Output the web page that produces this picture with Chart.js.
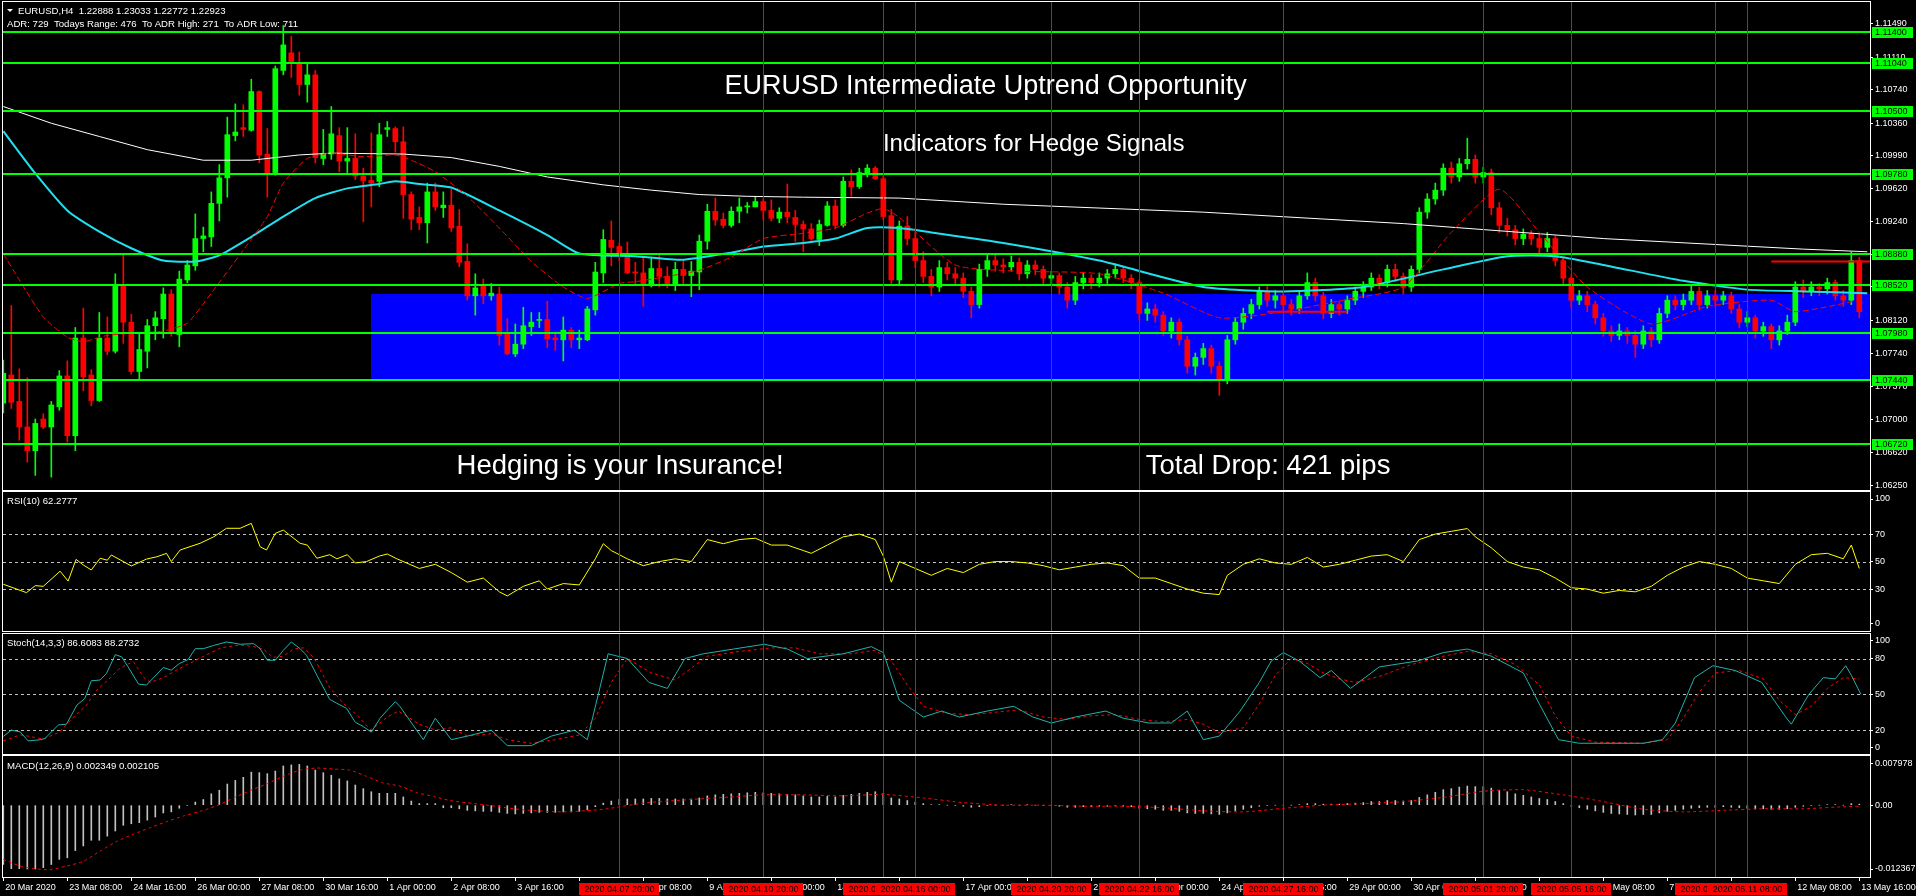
<!DOCTYPE html>
<html>
<head>
<meta charset="utf-8">
<title>EURUSD H4</title>
<script src="https://cdn.jsdelivr.net/npm/chart.js@4.4.1/dist/chart.umd.min.js"></script>
<style>
  html, body { margin: 0; padding: 0; background: #000; overflow: hidden; }
  canvas { position: absolute; left: 0; }
</style>
</head>
<body>
<canvas id="priceChart" width="1916" height="491" style="top:0px"></canvas>
<canvas id="rsiChart" width="1916" height="142" style="top:491px"></canvas>
<canvas id="stochChart" width="1916" height="122" style="top:633px"></canvas>
<canvas id="macdChart" width="1916" height="141" style="top:755px"></canvas>
<script>
// ---- candles, one row per trading day (6 x H4) ----
var opens = [
  1.0718, 1.0750, 1.0720, 1.0691, 1.0664, 1.0700,
  1.0691, 1.0714, 1.0749, 1.0681, 1.0792, 1.0750,
  1.0721, 1.0792, 1.0777, 1.0851, 1.0810, 1.0754,
  1.0777, 1.0806, 1.0814, 1.0842, 1.0796, 1.0858,
  1.0874, 1.0905, 1.0907, 1.0945, 1.0974, 1.1022,
  1.1031, 1.1028, 1.1072, 1.1001, 1.0980, 1.1096,
  1.1116, 1.1104, 1.1080, 1.1091, 1.0996, 1.1001,
  1.1022, 1.0993, 1.0996, 1.0976, 1.0971, 1.0970,
  1.1029, 1.1030, 1.1015, 1.0955, 1.0929, 1.0923,
  1.0958, 1.0940, 1.0943, 1.0919, 1.0879, 1.0840,
  1.0853, 1.0840, 1.0842, 1.0797, 1.0774, 1.0785,
  1.0805, 1.0812, 1.0813, 1.0792, 1.0790, 1.0801,
  1.0790, 1.0790, 1.0824, 1.0866, 1.0903, 1.0896,
  1.0886, 1.0867, 1.0866, 1.0852, 1.0871, 1.0862,
  1.0852, 1.0870, 1.0863, 1.0867, 1.0902, 1.0936,
  1.0927, 1.0920, 1.0936, 1.0941, 1.0941, 1.0947,
  1.0937, 1.0928, 1.0935, 1.0929, 1.0921, 1.0916,
  1.0904, 1.0920, 1.0942, 1.0920, 1.0970, 1.0964,
  1.0979, 1.0985, 1.0973, 1.0931, 1.0858, 1.0919,
  1.0905, 1.0880, 1.0862, 1.0850, 1.0872, 1.0865,
  1.0860, 1.0845, 1.0830, 1.0870, 1.0880, 1.0875,
  1.0873, 1.0878, 1.0865, 1.0875, 1.0870, 1.0860,
  1.0863, 1.0850, 1.0835, 1.0855, 1.0860, 1.0855,
  1.0860, 1.0865, 1.0870, 1.0860, 1.0855, 1.0820,
  1.0825, 1.0818, 1.0800, 1.0810, 1.0790, 1.0760,
  1.0770, 1.0780, 1.0760, 1.0745, 1.0790, 1.0810,
  1.0820, 1.0830, 1.0845, 1.0835, 1.0840, 1.0830,
  1.0825, 1.0840, 1.0855, 1.0840, 1.0820, 1.0830,
  1.0825, 1.0835, 1.0845, 1.0850, 1.0860, 1.0855,
  1.0870, 1.0862, 1.0850, 1.0870, 1.0935, 1.0950,
  1.0960, 1.0985, 1.0975, 1.0990, 1.0995, 1.0975,
  1.0980, 1.0940, 1.0920, 1.0915, 1.0905, 1.0910,
  1.0905, 1.0895, 1.0905, 1.0880, 1.0860, 1.0835,
  1.0840, 1.0830, 1.0815, 1.0800, 1.0795, 1.0800,
  1.0795, 1.0785, 1.0800, 1.0790, 1.0820, 1.0835,
  1.0830, 1.0835, 1.0845, 1.0830, 1.0840, 1.0835,
  1.0840, 1.0825, 1.0810, 1.0815, 1.0800, 1.0805,
  1.0790, 1.0800, 1.0810, 1.0850, 1.0845, 1.0850,
  1.0848, 1.0855, 1.0840, 1.0835, 1.0880
];
var highs = [
  1.0767, 1.0829, 1.0757, 1.0747, 1.0700, 1.0706,
  1.0720, 1.0755, 1.0766, 1.0804, 1.0826, 1.0756,
  1.0821, 1.0816, 1.0865, 1.0886, 1.0819, 1.0797,
  1.0813, 1.0822, 1.0849, 1.0847, 1.0868, 1.0880,
  1.0933, 1.0918, 1.0958, 1.0989, 1.1043, 1.1058,
  1.1057, 1.1086, 1.1073, 1.1030, 1.1101, 1.1147,
  1.1135, 1.1117, 1.1104, 1.1096, 1.1029, 1.1055,
  1.1031, 1.1031, 1.1024, 1.0985, 1.1025, 1.1036,
  1.1038, 1.1032, 1.1032, 1.0958, 1.0941, 1.0968,
  1.0968, 1.0958, 1.0961, 1.0938, 1.0899, 1.0865,
  1.0859, 1.0854, 1.0850, 1.0814, 1.0808, 1.0827,
  1.0821, 1.0821, 1.0834, 1.0799, 1.0816, 1.0804,
  1.0801, 1.0828, 1.0878, 1.0915, 1.0925, 1.0900,
  1.0901, 1.0878, 1.0884, 1.0884, 1.0886, 1.0873,
  1.0878, 1.0881, 1.0879, 1.0909, 1.0944, 1.0951,
  1.0934, 1.0941, 1.0951, 1.0946, 1.0952, 1.0950,
  1.0949, 1.0940, 1.0967, 1.0937, 1.0925, 1.0922,
  1.0926, 1.0947, 1.0949, 1.0975, 1.0983, 1.0985,
  1.0989, 1.0987, 1.0976, 1.0938, 1.0925, 1.0930,
  1.0912, 1.0890, 1.0870, 1.0880, 1.0878, 1.0872,
  1.0866, 1.0850, 1.0876, 1.0888, 1.0886, 1.0882,
  1.0885, 1.0883, 1.0880, 1.0880, 1.0874, 1.0868,
  1.0866, 1.0855, 1.0862, 1.0866, 1.0864, 1.0866,
  1.0870, 1.0876, 1.0874, 1.0864, 1.0858, 1.0832,
  1.0830, 1.0822, 1.0815, 1.0814, 1.0794, 1.0775,
  1.0786, 1.0784, 1.0765, 1.0795, 1.0815, 1.0826,
  1.0836, 1.0850, 1.0852, 1.0846, 1.0845, 1.0836,
  1.0846, 1.0866, 1.0860, 1.0844, 1.0836, 1.0834,
  1.0840, 1.0850, 1.0856, 1.0866, 1.0864, 1.0875,
  1.0876, 1.0866, 1.0874, 1.0940, 1.0956, 1.0968,
  1.0990, 1.0992, 1.0996, 1.1019, 1.1000, 1.0986,
  1.0984, 1.0946, 1.0928, 1.0920, 1.0916, 1.0914,
  1.0910, 1.0912, 1.0908, 1.0884, 1.0864, 1.0846,
  1.0845, 1.0834, 1.0820, 1.0806, 1.0808, 1.0804,
  1.0800, 1.0806, 1.0804, 1.0826, 1.0840, 1.0840,
  1.0842, 1.0852, 1.0850, 1.0846, 1.0846, 1.0845,
  1.0844, 1.0830, 1.0822, 1.0818, 1.0810, 1.0808,
  1.0806, 1.0818, 1.0856, 1.0858, 1.0856, 1.0854,
  1.0860, 1.0858, 1.0846, 1.0890, 1.0884
];
var lows = [
  1.0707, 1.0712, 1.0676, 1.0651, 1.0636, 1.0689,
  1.0634, 1.0710, 1.0674, 1.0664, 1.0732, 1.0715,
  1.0720, 1.0773, 1.0775, 1.0786, 1.0751, 1.0744,
  1.0758, 1.0790, 1.0792, 1.0794, 1.0782, 1.0855,
  1.0869, 1.0890, 1.0896, 1.0925, 1.0952, 1.1016,
  1.1021, 1.1027, 1.0991, 1.0952, 1.0977, 1.1091,
  1.1088, 1.1068, 1.1060, 1.0991, 1.0989, 1.0995,
  1.0981, 1.0980, 1.0972, 1.0924, 1.0941, 1.0964,
  1.1021, 1.1003, 1.0928, 1.0915, 1.0915, 1.0900,
  1.0937, 1.0929, 1.0913, 1.0873, 1.0835, 1.0818,
  1.0831, 1.0835, 1.0784, 1.0773, 1.0771, 1.0780,
  1.0795, 1.0804, 1.0781, 1.0778, 1.0766, 1.0781,
  1.0780, 1.0789, 1.0818, 1.0855, 1.0874, 1.0880,
  1.0865, 1.0852, 1.0828, 1.0850, 1.0850, 1.0849,
  1.0846, 1.0852, 1.0839, 1.0847, 1.0893, 1.0920,
  1.0917, 1.0918, 1.0923, 1.0934, 1.0941, 1.0926,
  1.0925, 1.0923, 1.0923, 1.0902, 1.0890, 1.0903,
  1.0897, 1.0919, 1.0917, 1.0918, 1.0953, 1.0962,
  1.0975, 1.0972, 1.0926, 1.0854, 1.0852, 1.0898,
  1.0872, 1.0855, 1.0840, 1.0845, 1.0858, 1.0852,
  1.0838, 1.0815, 1.0826, 1.0862, 1.0868, 1.0866,
  1.0868, 1.0858, 1.0860, 1.0864, 1.0852, 1.0854,
  1.0842, 1.0826, 1.0830, 1.0848, 1.0848, 1.0850,
  1.0854, 1.0860, 1.0855, 1.0848, 1.0812, 1.0812,
  1.0810, 1.0795, 1.0792, 1.0784, 1.0752, 1.0750,
  1.0762, 1.0752, 1.0727, 1.0740, 1.0785, 1.0802,
  1.0814, 1.0825, 1.0828, 1.0826, 1.0822, 1.0818,
  1.0820, 1.0836, 1.0834, 1.0814, 1.0815, 1.0818,
  1.0820, 1.0830, 1.0838, 1.0846, 1.0848, 1.0850,
  1.0856, 1.0842, 1.0845, 1.0866, 1.0928, 1.0944,
  1.0954, 1.0968, 1.0970, 1.0984, 1.0968, 1.0968,
  1.0932, 1.0912, 1.0908, 1.0898, 1.0898, 1.0898,
  1.0888, 1.0890, 1.0874, 1.0852, 1.0826, 1.0830,
  1.0822, 1.0808, 1.0794, 1.0788, 1.0790, 1.0786,
  1.0770, 1.0780, 1.0782, 1.0786, 1.0815, 1.0824,
  1.0824, 1.0830, 1.0824, 1.0826, 1.0828, 1.0830,
  1.0820, 1.0804, 1.0805, 1.0792, 1.0794, 1.0780,
  1.0784, 1.0796, 1.0806, 1.0838, 1.0840, 1.0840,
  1.0842, 1.0835, 1.0828, 1.0830, 1.0815
];
var closes = [
  1.0752, 1.0719, 1.0691, 1.0664, 1.0695, 1.0691,
  1.0716, 1.0749, 1.0681, 1.0792, 1.0748, 1.0721,
  1.0792, 1.0777, 1.0852, 1.0810, 1.0754, 1.0779,
  1.0806, 1.0815, 1.0842, 1.0798, 1.0859, 1.0875,
  1.0905, 1.0908, 1.0945, 1.0974, 1.1023, 1.1026,
  1.1029, 1.1072, 1.1000, 1.0980, 1.1098, 1.1125,
  1.1106, 1.1080, 1.1091, 1.0997, 1.1001, 1.1024,
  1.0993, 1.0996, 1.0976, 1.0971, 1.0968, 1.1023,
  1.1031, 1.1015, 1.0955, 1.0927, 1.0923, 1.0958,
  1.0941, 1.0943, 1.0917, 1.0878, 1.0840, 1.0849,
  1.0840, 1.0843, 1.0795, 1.0774, 1.0785, 1.0806,
  1.0810, 1.0813, 1.0791, 1.0790, 1.0801, 1.0790,
  1.0792, 1.0825, 1.0867, 1.0904, 1.0895, 1.0889,
  1.0866, 1.0866, 1.0852, 1.0871, 1.0862, 1.0852,
  1.0870, 1.0863, 1.0868, 1.0902, 1.0936, 1.0926,
  1.0920, 1.0936, 1.0941, 1.0942, 1.0947, 1.0937,
  1.0928, 1.0935, 1.0930, 1.0921, 1.0916, 1.0905,
  1.0921, 1.0942, 1.0920, 1.0970, 1.0964, 1.0980,
  1.0985, 1.0973, 1.0930, 1.0858, 1.0919, 1.0905,
  1.0880, 1.0862, 1.0850, 1.0872, 1.0865, 1.0860,
  1.0845, 1.0830, 1.0870, 1.0880, 1.0875, 1.0873,
  1.0878, 1.0865, 1.0875, 1.0870, 1.0860, 1.0863,
  1.0850, 1.0835, 1.0855, 1.0860, 1.0855, 1.0860,
  1.0865, 1.0870, 1.0860, 1.0855, 1.0820, 1.0825,
  1.0818, 1.0800, 1.0810, 1.0790, 1.0760, 1.0770,
  1.0780, 1.0760, 1.0745, 1.0790, 1.0810, 1.0820,
  1.0830, 1.0845, 1.0835, 1.0840, 1.0830, 1.0825,
  1.0840, 1.0855, 1.0840, 1.0820, 1.0830, 1.0825,
  1.0835, 1.0845, 1.0850, 1.0860, 1.0855, 1.0870,
  1.0862, 1.0850, 1.0870, 1.0935, 1.0950, 1.0960,
  1.0985, 1.0975, 1.0990, 1.0995, 1.0975, 1.0980,
  1.0940, 1.0920, 1.0915, 1.0905, 1.0910, 1.0905,
  1.0895, 1.0905, 1.0880, 1.0860, 1.0835, 1.0840,
  1.0830, 1.0815, 1.0800, 1.0795, 1.0800, 1.0795,
  1.0785, 1.0800, 1.0790, 1.0820, 1.0835, 1.0830,
  1.0835, 1.0845, 1.0830, 1.0840, 1.0835, 1.0840,
  1.0825, 1.0810, 1.0815, 1.0800, 1.0805, 1.0790,
  1.0800, 1.0810, 1.0850, 1.0845, 1.0850, 1.0848,
  1.0855, 1.0840, 1.0835, 1.0880, 1.0822
];

// ---- moving averages as [bar, price] ----
var slowMa = [[0,1.1055],[6,1.1036],[12,1.1021],[18,1.1006],[25,1.0994],[31,1.0994],[37,1.1000],[41,1.1002],
  [50,1.1001],[56,1.0997],[62,1.0987],[68,1.0975],[75,1.0966],[81,1.0960],[87,1.0955],[93,1.0953],[100,1.0952],
  [112,1.0951],[125,1.0944],[150,1.0935],[175,1.0922],[200,1.0905],[225,1.0893],[233,1.0890]];
var midMa = [[0,1.1027],[4,1.0979],[8,1.0937],[12,1.0913],[16,1.0894],[20,1.0880],[24,1.0879],[27,1.0886],
  [31,1.0907],[35,1.0930],[39,1.0951],[43,1.0962],[47,1.0967],[49,1.0970],[52,1.0967],[56,1.0963],[62,1.0937],
  [68,1.0909],[72,1.0888],[79,1.0885],[85,1.0881],[91,1.0889],[95,1.0896],[100,1.0900],[104,1.0905],[108,1.0917],
  [112,1.0917],[116,1.0912],[125,1.0900],[137,1.0880],[150,1.0850],[160,1.0845],[170,1.0850],[180,1.0870],
  [188,1.0885],[194,1.0885],[200,1.0875],[210,1.0857],[218,1.0847],[225,1.0845],[233,1.0843]];
var fastMa = [[0,1.0888],[2,1.0858],[5,1.0816],[8,1.0793],[10,1.0788],[13,1.0795],[17,1.0798],[20,1.0800],
  [23,1.0809],[26,1.0843],[30,1.0892],[33,1.0930],[35,1.0968],[38,1.0996],[41,1.1002],[45,1.0998],[49,1.1000],
  [51,1.0994],[54,1.0981],[58,1.0953],[62,1.0917],[66,1.0879],[70,1.0850],[73,1.0837],[77,1.0854],[79,1.0856],
  [83,1.0862],[87,1.0869],[91,1.0884],[95,1.0905],[100,1.0911],[104,1.0917],[108,1.0934],[110,1.0939],
  [112,1.0929],[119,1.0875],[127,1.0868],[137,1.0865],[145,1.0843],[152,1.0815],[160,1.0822],[168,1.0836],
  [175,1.0850],[181,1.0912],[187,1.0961],[192,1.0912],[198,1.0850],[206,1.0808],[213,1.0828],[221,1.0835],
  [224,1.0822],[232,1.0835]];
var trendA = [[158,1.0822],[168,1.0822]];
var trendB = [[221,1.0879],[234,1.0879]];

// ---- levels, zone, events, text ----
var levelPrices = [1.1140, 1.1104, 1.1050, 1.0978, 1.0888, 1.0852, 1.0798, 1.0744, 1.0672];
var priceTicks = [1.1149, 1.1111, 1.1074, 1.1036, 1.0999, 1.0962, 1.0924, 1.0887, 1.0850, 1.0812, 1.0774, 1.0737, 1.0700, 1.0662, 1.0625];
var zoneStartBar = 46, zoneTop = 1.0842, zoneBottom = 1.0744;
var eventBars = [77, 95, 110, 114, 131, 142, 160, 185, 196, 214, 218];
var eventLabels = ['2020.04.07 20:00', '2020.04.10 20:00', '2020.04.15 08:00', '2020.04.16 00:00', '2020.04.20 20:00',
  '2020.04.22 16:00', '2020.04.27 16:00', '2020.05.01 20:00', '2020.05.05 16:00', '2020.05.08 16:00', '2020.05.11 08:00'];
var dateTicks = [0, 8, 16, 24, 32, 40, 48, 56, 64, 72, 80, 88, 96, 104, 112, 120, 128, 136, 144, 152, 160, 168, 176, 184, 192, 200, 208, 216, 224, 232];
var dateLabels = ['20 Mar 2020', '23 Mar 08:00', '24 Mar 16:00', '26 Mar 00:00', '27 Mar 08:00', '30 Mar 16:00', '1 Apr 00:00',
  '2 Apr 08:00', '3 Apr 16:00', '7 Apr 00:00', '8 Apr 08:00', '9 Apr 16:00', '13 Apr 00:00', '14 Apr 08:00', '15 Apr 16:00',
  '17 Apr 00:00', '20 Apr 08:00', '21 Apr 16:00', '23 Apr 00:00', '24 Apr 08:00', '27 Apr 16:00', '29 Apr 00:00',
  '30 Apr 08:00', '1 May 16:00', '5 May 00:00', '6 May 08:00', '7 May 16:00', '11 May 00:00', '12 May 08:00', '13 May 16:00'];
var notes = [
  ['EURUSD Intermediate Uptrend Opportunity', 122.8, 1.10772, 27],
  ['Indicators for Hedge Signals', 128.8, 1.10124, 24],
  ['Hedging is your Insurance!', 77.1, 1.06467, 27.5],
  ['Total Drop: 421 pips', 158.1, 1.06467, 27.5]
];
var headerLine1 = 'EURUSD,H4  1.22888 1.23033 1.22772 1.22923';
var headerLine2 = 'ADR: 729  Todays Range: 476  To ADR High: 271  To ADR Low: 711';

// ---- RSI(10) ----
var rsiPoints = [[0,33.5],[2.9,27.4],[4,32.5],[5,32],[7.1,43],[8.1,35.8],[9.1,51.6],[10,47.5],[11,43.9],[12.1,52.4],
  [13,51],[13.5,54.8],[16,46.8],[17.9,51.8],[19.2,53.5],[20.4,56],[21,50],[22.1,58.4],[24.6,63.3],[26.3,68],
  [27.9,74.2],[29.6,74.2],[31,77.8],[32.1,60.8],[32.9,58.4],[34,70.5],[35,72.9],[37.1,63.3],[38,62],[39.2,52.4],
  [40.8,55],[41.7,52],[43,55],[44,49],[45.4,50],[47,54],[48,55.5],[49.2,52],[52,45],[54,48],[56,42],[58,35],
  [60,38],[62,28],[63,25],[65,32],[67,36],[68,30],[70,34],[72,33],[74,52],[75,63],[76,58],[78,52],[80,47],[82,50],
  [84,52],[86,50],[87,58],[88,66],[90,63],[92,66],[94,67],[96,62],[98,62],[100,58],[101,56],[103,62],[105,68],
  [107,70],[109,66],[110,54],[111,35],[112,50],[114,45],[116,40],[118,45],[120,42],[122,48],[124,50],[126,50],
  [128,49],[130,47],[132,44],[134,46],[136,48],[138,49],[140,47],[142,38],[144,38],[146,34],[148,30],[150,27],
  [152,26],[153,40],[155,48],[157,52],[159,49],[161,48],[163,53],[165,46],[167,48],[169,51],[171,54],[173,55],
  [175,50],[177,66],[179,70],[181,72],[183,74],[184,68],[186,60],[188,50],[190,46],[192,44],[194,38],[196,31],
  [198,30],[200,27],[202,29],[204,28],[206,32],[208,40],[210,46],[212,50],[214,48],[216,45],[218,38],[220,36],
  [222,34],[224,48],[226,55],[228,56],[230,52],[231,62],[232,45]];

// ---- Stochastic(14,3,3) ----
var stochMain = [[0,14.7],[1,20],[2.1,18.6],[3.1,11],[4.6,11.9],[5.2,13],[6.9,24.4],[7.9,25],[9.2,41],[10.2,46.6],
  [11,61.4],[12.1,62],[12.9,67.5],[14,83.3],[14.8,81.4],[15.6,73],[16.9,58.6],[17.9,57.8],[20,72.5],[21,70.3],
  [22,75.8],[23.1,79.2],[24,88.3],[25,88.3],[26.3,91],[27.9,93.9],[28.8,93],[29.6,92],[31.3,92.5],[32.1,88.3],
  [33,78.6],[34,78.6],[35,86.9],[36,93.9],[37.1,88.3],[37.9,82.8],[39.2,66],[40.8,45.8],[41.7,42.5],[42.9,38.3],
  [44,26.6],[45,23],[46,18.3],[47.1,30],[48.1,37.5],[49,43.9],[49.6,39.7],[52.5,12],[54,30],[56,12],[58,15],
  [61,20],[63,7],[66,7],[68.5,15],[71.4,20],[73,12],[75.6,84],[78,80],[80.7,60],[83,55],[85.2,80],[87.5,84],
  [91.3,88],[95.1,92],[98,88],[100.5,80],[105,84],[108.5,90],[110,85],[112,45],[115,31],[117.3,36],[119.5,31],
  [123,36],[126.3,40],[128.7,31],[131,26],[134,31],[137.8,36],[140,30],[143.2,26],[146,26],[148,36],[150,12],
  [152,15],[154.6,36],[157,60],[158.5,78],[160,85],[162,78],[164.6,64],[166,70],[168.4,55],[172,73],[176.8,78],
  [180,85],[183,88],[186,82],[190,68],[192,42],[194.4,12],[197,9],[200,9],[205,9],[207.4,12],[209,26],[211.4,64],
  [213.7,74],[216.5,70],[219.8,60],[222.8,31],[223.5,25],[225.7,50],[227.5,64],[229,63],[230.3,74],[231,66],[232.2,50]];
var stochSignal = [[0,11],[2.1,16],[3.1,15],[5,12.5],[6.9,18],[9.4,35],[10.3,40],[11.6,53],[13.4,64],[14.4,71],
  [15.5,75.3],[16.3,77],[17.6,64],[18.4,60],[20,64],[22,71.6],[24.6,80.5],[27.2,89],[29.6,91.4],[31.3,90],[32.5,88],
  [33.7,81],[35,82],[36.3,88],[37.5,89],[38.8,81],[40.8,55.6],[42.5,42.5],[44.2,32.7],[45.9,20.3],[46.7,24],[48,31],
  [49.4,36],[52,25],[54,20],[56,22],[58,15],[61,17],[63,12],[66,9],[69,12],[72,16],[74,30],[76,60],[78,80],[81,68],
  [84,62],[86,72],[88,82],[92,86],[96,89],[99,89],[102,84],[106,84],[109,87],[111,78],[113,58],[115,40],[118,34],
  [121,33],[124,35],[127,37],[130,31],[133,29],[136,32],[139,33],[142,29],[145,27],[148,29],[150,25],[152,18],
  [155,22],[157,42],[159,66],[161,80],[163,76],[165,68],[167,63],[169,60],[172,65],[176,75],[180,82],[183,86],
  [186,84],[189,75],[192,58],[194,32],[196,15],[199,10],[205,9],[208,12],[210,30],[212,52],[214,68],[217,70],
  [220,63],[222,45],[224,33],[226,40],[228,55],[230,64],[232,63]];

// ---- MACD(12,26,9) ----
var macdHist = [
  -0.0115, -0.0123, -0.0123, -0.01237, -0.01237, -0.0121,
  -0.0115, -0.0105, -0.0102, -0.0088, -0.0079, -0.0068,
  -0.0068, -0.0060, -0.0050, -0.0039, -0.0036, -0.0034,
  -0.0029, -0.0023, -0.0015, -0.0013, -0.0006, -0.0001,
  0.0006, 0.0011, 0.0022, 0.0029, 0.0041, 0.0048,
  0.0054, 0.0064, 0.0063, 0.0061, 0.0066, 0.0076,
  0.0078, 0.0079, 0.0076, 0.0068, 0.0063, 0.0058,
  0.0051, 0.0047, 0.0039, 0.0032, 0.0026, 0.0023,
  0.0023, 0.0023, 0.0016, 0.0008, 0.0003, 0.0003,
  0.0003, -0.0005, -0.0005, -0.0007, -0.0010, -0.0011,
  -0.0012, -0.0012, -0.0014, -0.0016, -0.0017, -0.0016,
  -0.0015, -0.0014, -0.0014, -0.0014, -0.0013, -0.0013,
  -0.0012, -0.0009, -0.0003, 0.0004, 0.0008, 0.0011,
  0.0012, 0.0012, 0.0012, 0.0013, 0.0013, 0.0012,
  0.0012, 0.0012, 0.0012, 0.0014, 0.0018, 0.0020,
  0.0021, 0.0022, 0.0023, 0.0024, 0.0025, 0.0024,
  0.0023, 0.0022, 0.0021, 0.0020, 0.0018, 0.0016,
  0.0016, 0.0017, 0.0016, 0.0019, 0.0021, 0.0023,
  0.0025, 0.0026, 0.0023, 0.0014, 0.0012, 0.0009,
  0.0006, 0.0003, 0.0001, 0.0001, 0.0000, -0.0001,
  -0.0002, -0.0004, -0.0003, -0.0001, 0.0000, 0.0000,
  0.0001, 0.0000, 0.0001, 0.0000, -0.0001, -0.0001,
  -0.0002, -0.0004, -0.0004, -0.0003, -0.0003, -0.0002,
  -0.0002, -0.0001, -0.0002, -0.0003, -0.0006, -0.0007,
  -0.0008, -0.0010, -0.0010, -0.0012, -0.0015, -0.0016,
  -0.0016, -0.0017, -0.0018, -0.0015, -0.0011, -0.0008,
  -0.0005, -0.0002, -0.0001, 0.0000, 0.0000, 0.0000,
  0.0001, 0.0003, 0.0003, 0.0002, 0.0002, 0.0002,
  0.0003, 0.0004, 0.0005, 0.0007, 0.0007, 0.0009,
  0.0009, 0.0008, 0.0009, 0.0015, 0.0020, 0.0025,
  0.0030, 0.0032, 0.0035, 0.0037, 0.0036, 0.0036,
  0.0033, 0.0029, 0.0026, 0.0022, 0.0019, 0.0016,
  0.0013, 0.0011, 0.0007, 0.0003, -0.0002, -0.0005,
  -0.0008, -0.0011, -0.0014, -0.0016, -0.0017, -0.0018,
  -0.0019, -0.0018, -0.0018, -0.0015, -0.0012, -0.0010,
  -0.0008, -0.0006, -0.0005, -0.0004, -0.0004, -0.0003,
  -0.0004, -0.0005, -0.0006, -0.0007, -0.0007, -0.0008,
  -0.0008, -0.0007, -0.0004, -0.0002, -0.0001, 0.0000,
  0.0001, 0.0001, 0.0000, 0.0003, 0.0002
];
var macdSignal = [[0,-0.0105],[2.1,-0.0118],[3.8,-0.0123],[5.8,-0.0125],[7.9,-0.0118],[10,-0.0109],[12.1,-0.0089],
  [14.2,-0.0070],[16.3,-0.0056],[18.3,-0.0044],[20.4,-0.0032],[22.5,-0.0021],[24.6,-0.0012],[26.7,-0.0001],
  [28.8,0.0014],[30.8,0.0028],[32.9,0.0041],[35,0.0056],[37.1,0.0068],[39.2,0.0072],[41.3,0.0070],[43.3,0.0068],
  [45.4,0.0056],[47.5,0.0043],[49.6,0.0037],[51.7,0.0024],[53.8,0.0017],[55.8,0.0009],[60,0.0001],[65,-0.0009],
  [70,-0.0013],[75,-0.0008],[80,0.0004],[85,0.0010],[90,0.0015],[95,0.0020],[100,0.0020],[105,0.0018],[110,0.0021],
  [115,0.0014],[120,0.0005],[125,0.0000],[130,0.0000],[135,-0.0002],[140,-0.0002],[145,-0.0005],[150,-0.0011],
  [155,-0.0013],[160,-0.0006],[165,0.0000],[170,0.0003],[175,0.0007],[180,0.0015],[185,0.0027],[190,0.0030],
  [195,0.0020],[200,0.0007],[205,-0.0008],[210,-0.0013],[215,-0.0010],[220,-0.0007],[225,-0.0007],[230,-0.0003],[232,-0.0002]];

// ---- drawing ----
var FONT = "'Liberation Sans', Arial, sans-serif";
var X_MIN = -0.0375, X_MAX = 233.3375;
var BULL = '#00ff00', BEAR = '#ff0000';

function pts(arr) { return arr.map(function (p) { return { x: p[0], y: p[1] }; }); }

function xScale(show) {
  return {
    type: 'linear', min: X_MIN, max: X_MAX, display: show, offset: false,
    afterBuildTicks: function (s) { s.ticks = dateTicks.map(function (v) { return { value: v }; }); },
    afterFit: function (s) {
      if (!s.options.display) { s.height = 0; return; }
      s.height = 19; s.paddingLeft = 0; s.paddingRight = 0;
    },
    grid: { drawOnChartArea: false, drawTicks: true, tickLength: 4, color: '#ffffff', offset: false },
    border: { display: false },
    ticks: {
      color: '#ffffff', font: { family: FONT, size: 9 }, align: 'start', labelOffset: 2,
      maxRotation: 0, autoSkip: false, padding: 1,
      callback: function (v, i) { return dateLabels[i]; }
    }
  };
}

function yScale(min, max, vals, texts) {
  return {
    position: 'right', min: min, max: max,
    afterFit: function (s) { s.width = 46; s.paddingTop = 0; s.paddingBottom = 0; },
    afterBuildTicks: function (s) { s.ticks = vals.map(function (v) { return { value: v }; }); },
    grid: { drawOnChartArea: false, drawTicks: true, tickLength: 3, color: '#ffffff' },
    border: { display: false },
    ticks: {
      color: '#ffffff', padding: 2, autoSkip: false, font: { family: FONT, size: 9 },
      callback: function (v, i) { return texts[i]; }
    }
  };
}

function baseOptions(yCfg, showX, pad) {
  return {
    responsive: false, animation: false, events: [],
    layout: { padding: pad },
    plugins: { legend: { display: false }, tooltip: { enabled: false } },
    scales: { x: xScale(showX), y: yCfg }
  };
}

function drawEventLines(ctx, x, top, bottom) {
  ctx.strokeStyle = '#ff0000';
  ctx.lineWidth = 1;
  eventBars.forEach(function (b) {
    var px = Math.round(x.getPixelForValue(b)) + 0.5;
    ctx.beginPath(); ctx.moveTo(px, top); ctx.lineTo(px, bottom); ctx.stroke();
  });
}

function drawFrame(ctx, a) {
  ctx.strokeStyle = '#ffffff';
  ctx.lineWidth = 1;
  ctx.strokeRect(a.left - 0.5, a.top - 0.5, a.right - a.left + 1, a.bottom - a.top + 1);
}

function drawLevels(ctx, a, y, levels) {
  ctx.save();
  ctx.strokeStyle = '#c0c0c0';
  ctx.lineWidth = 1;
  ctx.setLineDash([3, 3]);
  levels.forEach(function (v) {
    var py = Math.round(y.getPixelForValue(v)) + 0.5;
    ctx.beginPath(); ctx.moveTo(a.left, py); ctx.lineTo(a.right, py); ctx.stroke();
  });
  ctx.restore();
}

function panelLabel(ctx, text, yPos) {
  ctx.fillStyle = '#ffffff';
  ctx.font = '9.6px ' + FONT;
  ctx.textAlign = 'left';
  ctx.textBaseline = 'middle';
  ctx.fillText(text, 7, yPos);
}

var priceDecor = {
  id: 'priceDecor',
  beforeDatasetsDraw: function (chart) {
    var ctx = chart.ctx, a = chart.chartArea, x = chart.scales.x, y = chart.scales.y;
    var x0 = Math.round(x.getPixelForValue(zoneStartBar));
    var yt = Math.round(y.getPixelForValue(zoneTop)), yb = Math.round(y.getPixelForValue(zoneBottom));
    ctx.save();
    ctx.fillStyle = '#0000ff';
    ctx.fillRect(x0, yt, a.right - x0, yb - yt);
    ctx.restore();
  },
  afterDatasetsDraw: function (chart) {
    var ctx = chart.ctx, a = chart.chartArea, x = chart.scales.x, y = chart.scales.y;
    ctx.save();
    ctx.beginPath(); ctx.rect(a.left, a.top, a.right - a.left, a.bottom - a.top); ctx.clip();
    ctx.strokeStyle = '#00ff00';
    ctx.lineWidth = 2;
    levelPrices.forEach(function (p) {
      var py = Math.round(y.getPixelForValue(p));
      ctx.beginPath(); ctx.moveTo(a.left, py); ctx.lineTo(a.right, py); ctx.stroke();
    });
    drawEventLines(ctx, x, a.top, a.bottom);
    ctx.fillStyle = '#ffffff';
    ctx.textAlign = 'center';
    ctx.textBaseline = 'middle';
    notes.forEach(function (n) {
      ctx.font = n[3] + 'px ' + FONT;
      ctx.fillText(n[0], x.getPixelForValue(n[1]), y.getPixelForValue(n[2]));
    });
    ctx.restore();
  },
  afterDraw: function (chart) {
    var ctx = chart.ctx, a = chart.chartArea, y = chart.scales.y;
    ctx.save();
    ctx.font = '9px ' + FONT;
    ctx.textAlign = 'left';
    ctx.textBaseline = 'middle';
    levelPrices.forEach(function (p) {
      var py = Math.round(y.getPixelForValue(p));
      ctx.fillStyle = '#00ff00';
      ctx.fillRect(a.right + 2, py - 5, 41, 11);
      ctx.fillStyle = '#000000';
      ctx.fillText(p.toFixed(5), a.right + 5, py + 0.5);
    });
    ctx.fillStyle = '#ffffff';
    ctx.beginPath(); ctx.moveTo(7, 9); ctx.lineTo(13, 9); ctx.lineTo(10, 12); ctx.closePath(); ctx.fill();
    ctx.font = '9.6px ' + FONT;
    ctx.fillText(headerLine1, 18, 11);
    ctx.fillText(headerLine2, 7, 24);
    drawFrame(ctx, a);
    ctx.restore();
  }
};

function indicatorDecor(label, levels, labelY, extra) {
  return {
    id: 'indicatorDecor',
    beforeDatasetsDraw: function (chart) {
      drawLevels(chart.ctx, chart.chartArea, chart.scales.y, levels);
    },
    afterDatasetsDraw: function (chart) {
      var ctx = chart.ctx, a = chart.chartArea;
      ctx.save();
      drawEventLines(ctx, chart.scales.x, a.top, a.bottom);
      ctx.restore();
    },
    afterDraw: function (chart) {
      var ctx = chart.ctx, a = chart.chartArea;
      ctx.save();
      panelLabel(ctx, label, labelY);
      drawFrame(ctx, a);
      if (extra) extra(chart);
      ctx.restore();
    }
  };
}

function eventBoxes(chart) {
  var ctx = chart.ctx, a = chart.chartArea, x = chart.scales.x;
  ctx.font = '9px ' + FONT;
  ctx.textAlign = 'center';
  ctx.textBaseline = 'middle';
  eventBars.forEach(function (b, i) {
    var px = Math.round(x.getPixelForValue(b));
    ctx.fillStyle = '#ff0000';
    ctx.fillRect(px - 40, a.bottom + 6, 80, 12);
    ctx.fillStyle = '#000000';
    ctx.fillText(eventLabels[i], px + 0.5, a.bottom + 12.5);
  });
}

// price pane
new Chart(document.getElementById('priceChart'), {
  type: 'bar',
  data: {
    datasets: [
      { type: 'bar', order: 5, grouped: false, barThickness: 1,
        data: lows.map(function (l, i) { return { x: i, y: [l, highs[i]] }; }),
        backgroundColor: closes.map(function (c, i) { return c >= opens[i] ? BULL : BEAR; }) },
      { type: 'bar', order: 4, grouped: false, barThickness: 5, minBarLength: 1,
        data: opens.map(function (o, i) { return { x: i, y: [o, closes[i]] }; }),
        backgroundColor: closes.map(function (c, i) { return c >= opens[i] ? BULL : BEAR; }) },
      { type: 'line', order: 3, data: pts(slowMa), borderColor: '#ffffff', borderWidth: 1, pointRadius: 0, tension: 0 },
      { type: 'line', order: 2, data: pts(midMa), borderColor: '#20e0f0', borderWidth: 2, pointRadius: 0, tension: 0.2 },
      { type: 'line', order: 1, data: pts(fastMa), borderColor: '#ff0000', borderWidth: 1, borderDash: [6, 3], pointRadius: 0, tension: 0.2 },
      { type: 'line', order: 0, data: pts(trendA), borderColor: '#ff0000', borderWidth: 2, pointRadius: 0 },
      { type: 'line', order: 0, data: pts(trendB), borderColor: '#ff0000', borderWidth: 2, pointRadius: 0 }
    ]
  },
  options: baseOptions(
    yScale(1.061938, 1.117374, priceTicks, priceTicks.map(function (v) { return v.toFixed(5); })),
    false, { left: 3, right: 0, top: 2, bottom: 1 }),
  plugins: [priceDecor]
});

// RSI pane
new Chart(document.getElementById('rsiChart'), {
  type: 'line',
  data: { datasets: [
    { data: pts(rsiPoints), borderColor: '#ffff00', borderWidth: 1, pointRadius: 0, tension: 0 }
  ] },
  options: baseOptions(yScale(-0.5, 100.6, [95.5, 70, 50, 30, 4.6], ['100', '70', '50', '30', '0']),
    false, { left: 3, right: 0, top: 1, bottom: 2 }),
  plugins: [indicatorDecor('RSI(10) 62.2777', [70, 50, 30], 10)]
});

// Stochastic pane
new Chart(document.getElementById('stochChart'), {
  type: 'line',
  data: { datasets: [
    { data: pts(stochMain), borderColor: '#20b2aa', borderWidth: 1, pointRadius: 0, tension: 0 },
    { data: pts(stochSignal), borderColor: '#ff0000', borderWidth: 1, borderDash: [3, 3], pointRadius: 0, tension: 0 }
  ] },
  options: baseOptions(yScale(0, 100.6, [94.8, 80, 50, 20, 5.8], ['100', '80', '50', '20', '0']),
    false, { left: 3, right: 0, top: 1, bottom: 1 }),
  plugins: [indicatorDecor('Stoch(14,3,3) 86.6083 88.2732', [80, 50, 20], 10)]
});

// MACD pane
new Chart(document.getElementById('macdChart'), {
  type: 'bar',
  data: { datasets: [
    { type: 'bar', order: 2, grouped: false, barThickness: 1,
      data: macdHist.map(function (v, i) { return { x: i, y: v }; }), backgroundColor: '#c0c0c0' },
    { type: 'line', order: 1, data: pts(macdSignal), borderColor: '#ff0000', borderWidth: 1, borderDash: [3, 3], pointRadius: 0, tension: 0.2 }
  ] },
  options: baseOptions(yScale(-0.013917, 0.009528, [0.007978, 0, -0.012367], ['0.007978', '0.00', '-0.012367']),
    true, { left: 3, right: 0, top: 1, bottom: 0 }),
  plugins: [indicatorDecor('MACD(12,26,9) 0.002349 0.002105', [], 11, eventBoxes)]
});
</script>
</body>
</html>
